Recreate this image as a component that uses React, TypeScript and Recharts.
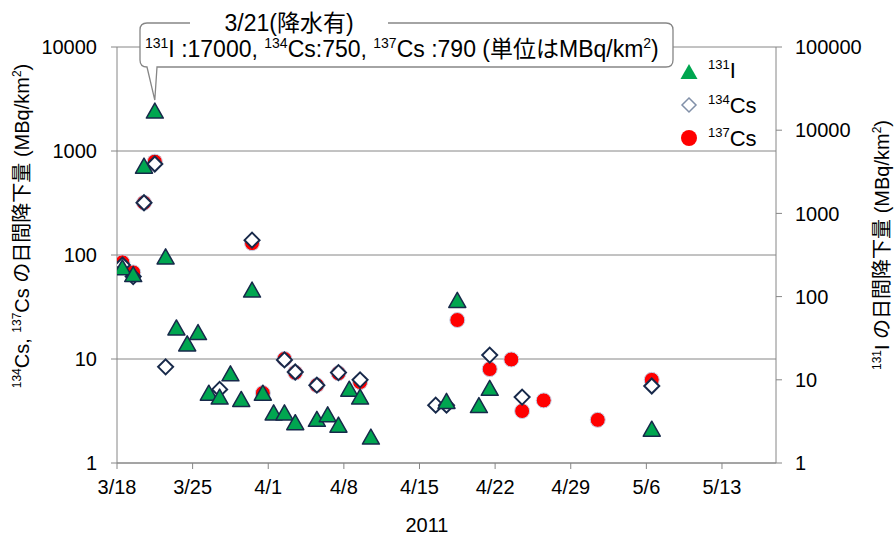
import React from 'react';
import { ScatterChart, Scatter, XAxis, YAxis, CartesianGrid, Customized, ReferenceDot } from 'recharts';

const FONT = "'Liberation Sans', Arial, 'Noto Sans CJK JP', sans-serif";

const tickLabels = ['3/18', '3/25', '4/1', '4/8', '4/15', '4/22', '4/29', '5/6', '5/13'];
const lastDay = '5/18';
const csTicks = [1, 10, 100, 1000, 10000];
const iTicks = [1, 10, 100, 1000, 10000, 100000];

// 131I (right axis)
const i131Dates = [
  '3/18', '3/19', '3/20', '3/21', '3/22', '3/23', '3/24', '3/25', '3/26', '3/27',
  '3/28', '3/29', '3/30', '3/31', '4/1', '4/2', '4/3', '4/5', '4/6', '4/7',
  '4/8', '4/9', '4/10', '4/17', '4/18', '4/20', '4/21', '5/6',
];
const i131Values = [
  222, 184, 3700, 17000, 300, 42, 27, 37, 6.9, 6.2,
  11.8, 5.8, 120, 6.9, 4.0, 4.0, 3.05, 3.35, 3.8, 2.85,
  7.7, 6.2, 2.05, 5.5, 90, 4.9, 7.9, 2.55,
];

// 134Cs (left axis)
const cs134Dates = [
  '3/18', '3/19', '3/20', '3/21', '3/22', '3/27', '3/30', '4/2', '4/3', '4/5',
  '4/7', '4/9', '4/16', '4/17', '4/21', '4/24', '5/6',
];
const cs134Values = [80, 62, 318, 750, 8.4, 5.1, 139, 9.8, 7.5, 5.6, 7.4, 6.3, 3.6, 3.6, 10.9, 4.3, 5.5];

// 137Cs (left axis)
const cs137Dates = [
  '3/18', '3/19', '3/20', '3/21', '3/30', '3/31', '4/2', '4/3', '4/5', '4/7',
  '4/9', '4/18', '4/21', '4/23', '4/24', '4/26', '5/1', '5/6',
];
const cs137Values = [85, 68, 318, 790, 130, 4.7, 10, 7.4, 5.6, 7.3, 6.0, 23.7, 8.0, 9.9, 3.16, 4.0, 2.6, 6.3];

function dayOf(md: string) {
  const [m, d] = md.split('/').map(Number);
  return Math.round((Date.UTC(2011, m - 1, d) - Date.UTC(2011, 2, 18)) / 86400000);
}

// daily samples are drawn at midday
const toPoints = (dates: string[], values: number[]) =>
  dates.map((date, k) => ({ date, x: dayOf(date) + 0.5, v: values[k] }));

const i131 = toPoints(i131Dates, i131Values);
const cs134 = toPoints(cs134Dates, cs134Values);
const cs137 = toPoints(cs137Dates, cs137Values);
const xTicks = tickLabels.map(dayOf);
const peak = i131.reduce((a, b) => (b.v > a.v ? b : a));

const GRAY = '#868686';
const GREEN = '#00a650';
const NAVY = '#17294a';

type Seg = [string, boolean?];
function rich(segs: Seg[], fs: number, sfs: number, rise: number) {
  let up = false;
  return segs.map(([t, sup], i) => {
    const dy = sup ? (up ? 0 : -rise) : up ? rise : 0;
    up = !!sup;
    return (
      <tspan key={i} dy={dy} fontSize={sup ? sfs : fs}>
        {t}
      </tspan>
    );
  });
}

const tri = (cx: number, cy: number) => `M${cx},${cy - 8}L${cx + 8.5},${cy + 7}L${cx - 8.5},${cy + 7}Z`;
const dia = (cx: number, cy: number, r = 7.5) => `M${cx},${cy - r}L${cx + r},${cy}L${cx},${cy + r}L${cx - r},${cy}Z`;

// rain-day note box pointing at the 3/21 iodine peak
const Callout = (props: any) => {
  const tipX = props.cx;
  const tipY = props.cy - 11;
  const x0 = 140, y0 = 23, x1 = 673, y1 = 67, r = 7;
  const d =
    `M190,${y0}L${x0 + r},${y0}Q${x0},${y0} ${x0},${y0 + r}L${x0},${y1 - r}Q${x0},${y1} ${x0 + r},${y1}` +
    `L${tipX},${tipY}L157,${y1}L${x1 - r},${y1}Q${x1},${y1} ${x1},${y1 - r}L${x1},${y0 + r}` +
    `Q${x1},${y0} ${x1 - r},${y0}L388,${y0}`;
  return (
    <g fontFamily={FONT} fill="#000" style={{ whiteSpace: 'pre' }}>
      <path d={d} fill="#fff" stroke={GRAY} strokeWidth={1.3} />
      <text x={289} y={31} textAnchor="middle" fontSize={23}>
        3/21(降水有)
      </text>
      <text x={145} y={57} fontSize={23}>
        {rich(
          [['131', true], ['I :17000, '], ['134', true], ['Cs:750, '], ['137', true], ['Cs :790 (単位はMBq/km'], ['2', true], [')']],
          23, 14, 9,
        )}
      </text>
    </g>
  );
};

const IodineMark = (props: any) => (
  <path d={tri(props.cx, props.cy)} fill={GREEN} stroke={NAVY} strokeWidth={1.5} strokeLinejoin="round" />
);

const Cs134Mark = (props: any) => (
  <path d={dia(props.cx, props.cy)} fill="#fff" stroke={NAVY} strokeWidth={2} />
);

const Cs137Mark = (props: any) => (
  <circle cx={props.cx} cy={props.cy} r={7.5} fill="#ff0000" stroke="#c5d4ea" strokeWidth={1} />
);

function Overlay() {
  return (
    <g fontFamily={FONT} fill="#000" style={{ whiteSpace: 'pre' }}>
      {/* legend */}
      <path d={tri(689, 72)} fill={GREEN} />
      <text x={708} y={78} fontSize={22}>{rich([['131', true], ['I']], 22, 13, 9)}</text>
      <path d={dia(689, 105, 7)} fill="#fff" stroke="#8190a8" strokeWidth={1.5} />
      <text x={708} y={113} fontSize={22}>{rich([['134', true], ['Cs']], 22, 13, 9)}</text>
      <circle cx={689} cy={138} r={8} fill="#ff0000" />
      <text x={708} y={146} fontSize={22}>{rich([['137', true], ['Cs']], 22, 13, 9)}</text>

      {/* axis titles */}
      <text transform="translate(29,226) rotate(-90)" textAnchor="middle" fontSize={20}>
        {rich(
          [['134', true], ['Cs, '], ['137', true], ['Cs の日間降下量 (MBq/km'], ['2', true], [')']],
          20, 12, 8,
        )}
      </text>
      <text transform="translate(889,245) rotate(-90)" textAnchor="middle" fontSize={20}>
        {rich([['131', true], ['I の日間降下量 (MBq/km'], ['2', true], [')']], 20, 12, 8)}
      </text>
      <text x={427} y={532} textAnchor="middle" fontSize={20}>
        2011
      </text>
    </g>
  );
}

const tickStyle = { fill: '#000', fontSize: 20, fontFamily: FONT };

export default function App() {
  return (
    <div style={{ position: 'fixed', left: 0, top: 0, background: '#fff' }}>
      <ScatterChart width={895} height={535} margin={{ top: 47, right: 0, bottom: 0, left: 0 }}>
        <CartesianGrid yAxisId="cs" vertical={false} stroke={GRAY} strokeWidth={1} />
        <XAxis
          type="number"
          dataKey="x"
          domain={[0, dayOf(lastDay)]}
          ticks={xTicks}
          tickFormatter={(v: number) => tickLabels[xTicks.indexOf(v)] ?? ''}
          height={72}
          stroke={GRAY}
          tickSize={6}
          tickMargin={11}
          tick={tickStyle}
          allowDataOverflow
        />
        <YAxis
          yAxisId="cs"
          type="number"
          dataKey="v"
          scale="log"
          domain={[1, 10000]}
          ticks={csTicks}
          width={117}
          stroke={GRAY}
          tickSize={6}
          tickMargin={14}
          tick={tickStyle}
          allowDataOverflow
        />
        <YAxis
          yAxisId="i"
          orientation="right"
          type="number"
          dataKey="v"
          scale="log"
          domain={[1, 100000]}
          ticks={iTicks}
          width={119}
          stroke={GRAY}
          tickSize={6}
          tickMargin={13}
          tick={tickStyle}
          allowDataOverflow
        />
        <ReferenceDot yAxisId="i" x={peak.x} y={peak.v} ifOverflow="visible" shape={Callout} />
        <Scatter yAxisId="cs" data={cs137} shape={Cs137Mark} isAnimationActive={false} />
        <Scatter yAxisId="cs" data={cs134} shape={Cs134Mark} isAnimationActive={false} />
        <Scatter yAxisId="i" data={i131} shape={IodineMark} isAnimationActive={false} />
        <Customized component={Overlay} />
      </ScatterChart>
    </div>
  );
}
